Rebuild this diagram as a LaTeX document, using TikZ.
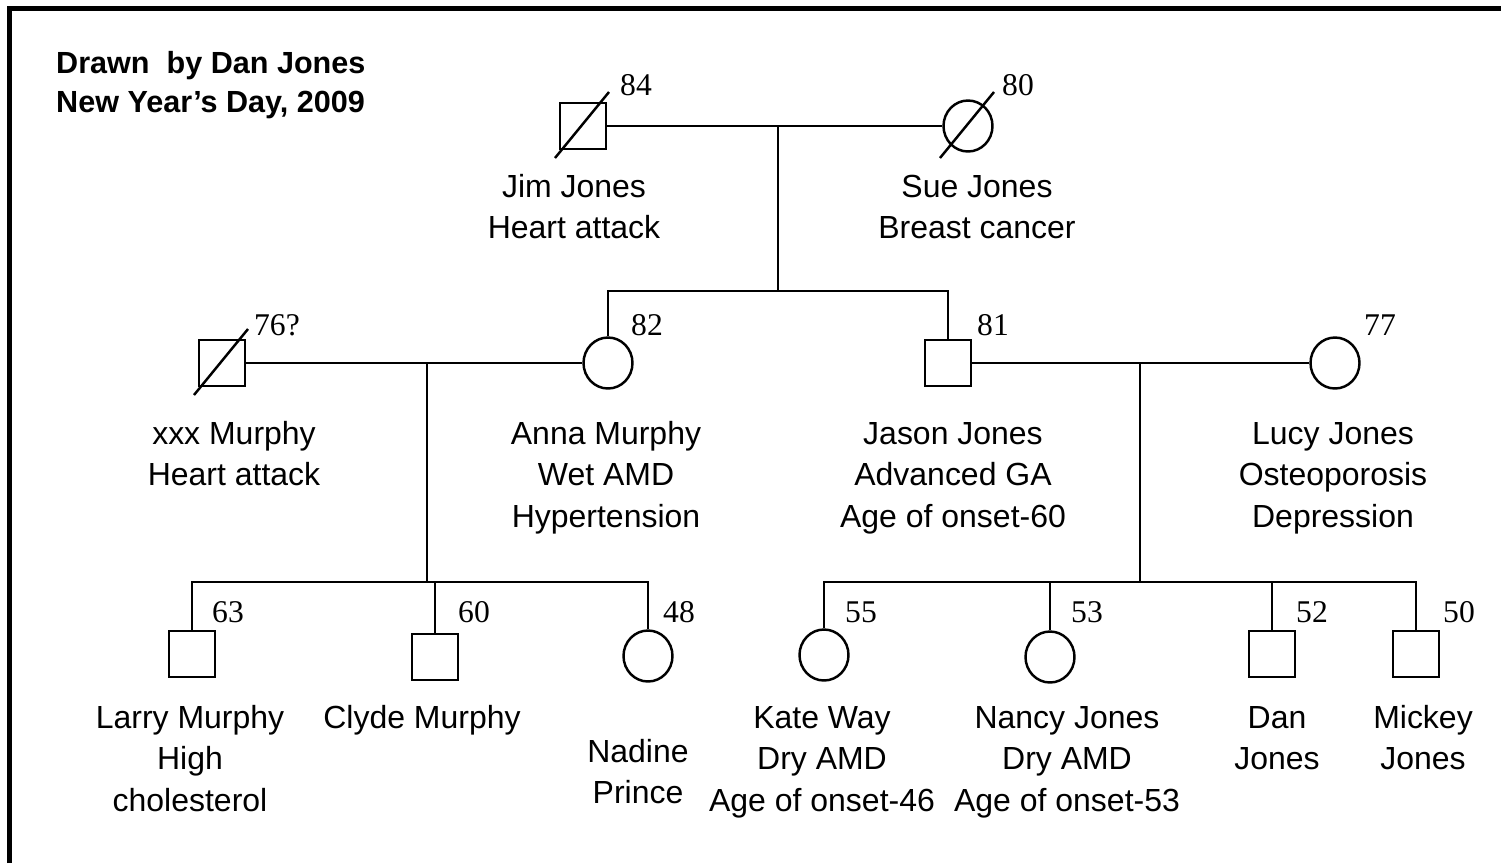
\documentclass[tikz,border=0pt]{standalone}
\usepackage{fontspec}
\setmainfont{Liberation Sans}
\newfontfamily\agefont{Liberation Serif}
\usetikzlibrary{shapes.geometric}

\tikzset{
  male/.style={draw, rectangle, minimum size=0.92cm, inner sep=0pt},
  female/.style={draw, ellipse, minimum width=0.98cm, minimum height=1.02cm, inner sep=0pt},
  info/.style={align=center, anchor=base, inner sep=0pt, font=\fontsize{18.2pt}{23.6pt}\selectfont},
  age/.style={inner sep=0pt, font=\agefont\fontsize{18pt}{20pt}\selectfont},
  credit/.style={align=left, anchor=base west, inner sep=0pt, font=\bfseries\fontsize{17.4pt}{22.2pt}\selectfont}
}

% slash through a deceased person
\newcommand{\deadmark}[1]{\draw (#1.center) ++(-28,32) -- ++(54,-66);}

\begin{document}
\begin{tikzpicture}[x=0.02cm, y=-0.02cm, line width=1.4pt]
  \useasboundingbox (0,0) rectangle (1501,863);

  % Frame
  \draw[line width=0.1cm] (9.5,863) -- (9.5,8.5) -- (1501,8.5);

  % (base of a text block = base of its last line)
  \node[credit] (credit) at (55,112) {Drawn~ by Dan Jones\\New Year’s Day, 2009};

  % First generation
  \node[male] (jim) at (583,126) {};
  \node[female] (sue) at (968,126) {};
  \deadmark{jim}
  \deadmark{sue}
  \node[age] (agejim) at (636,85) {84};
  \node[age] (agesue) at (1018,85) {80};
  \node[info] (txtjim) at (574,238.6) {Jim Jones\\Heart attack};
  \node[info] (txtsue) at (977,238.6) {Sue Jones\\Breast cancer};

  \draw (jim) -- (sue);
  \coordinate (m1) at (778,126);
  \coordinate (s1) at (778,291);
  \draw (m1) -- (s1);

  % Second generation
  \node[male] (xxx) at (222,363) {};
  \node[female] (anna) at (608,363) {};
  \node[male] (jason) at (948,363) {};
  \node[female] (lucy) at (1335,363) {};
  \deadmark{xxx}
  \node[age] (agexxx) at (277,325) {76?};
  \node[age] (ageanna) at (647,325) {82};
  \node[age] (agejason) at (993,325) {81};
  \node[age] (agelucy) at (1380,325) {77};
  \node[info] (txtxxx) at (234,485.6) {xxx Murphy\\Heart attack};
  \node[info] (txtanna) at (606,527.2) {Anna Murphy\\Wet AMD\\Hypertension};
  \node[info] (txtjason) at (953,527.2) {Jason Jones\\Advanced GA\\Age of onset-60};
  \node[info] (txtlucy) at (1333,527.2) {Lucy Jones\\Osteoporosis\\Depression};

  \draw (anna) -- (anna |- s1) -- (jason |- s1) -- (jason);
  \draw (xxx) -- (anna);
  \draw (jason) -- (lucy);
  \coordinate (m2) at (427,363);
  \coordinate (s2) at (427,582);
  \coordinate (m3) at (1140,363);
  \coordinate (s3) at (1140,582);
  \draw (m2) -- (s2);
  \draw (m3) -- (s3);

  % Third generation
  \node[male] (larry) at (192,654) {};
  \node[male] (clyde) at (435,657) {};
  \node[female] (nadine) at (648,656) {};
  \node[female] (kate) at (824,655) {};
  \node[female] (nancy) at (1050,657) {};
  \node[male] (dan) at (1272,654) {};
  \node[male] (mickey) at (1416,654) {};
  \node[age] (agelarry) at (228,612) {63};
  \node[age] (ageclyde) at (474,612) {60};
  \node[age] (agenadine) at (679,612) {48};
  \node[age] (agekate) at (861,612) {55};
  \node[age] (agenancy) at (1087,612) {53};
  \node[age] (agedan) at (1312,612) {52};
  \node[age] (agemickey) at (1459,612) {50};
  \node[info] (txtlarry) at (190,811.2) {Larry Murphy\\High\\cholesterol};
  \node[info] (txtclyde) at (422,728) {Clyde Murphy};
  \node[info] (txtnadine) at (638,803.6) {Nadine\\Prince};
  \node[info] (txtkate) at (822,811.2) {Kate Way\\Dry AMD\\Age of onset-46};
  \node[info] (txtnancy) at (1067,811.2) {Nancy Jones\\Dry AMD\\Age of onset-53};
  \node[info] (txtdan) at (1277,769.6) {Dan\\Jones};
  \node[info] (txtmickey) at (1423,769.6) {Mickey\\Jones};

  \draw (larry) -- (larry |- s2) -- (nadine |- s2) -- (nadine);
  \draw (clyde) -- (clyde |- s2);
  \draw (kate) -- (kate |- s3) -- (mickey |- s3) -- (mickey);
  \draw (nancy) -- (nancy |- s3);
  \draw (dan) -- (dan |- s3);
\end{tikzpicture}
\end{document}
